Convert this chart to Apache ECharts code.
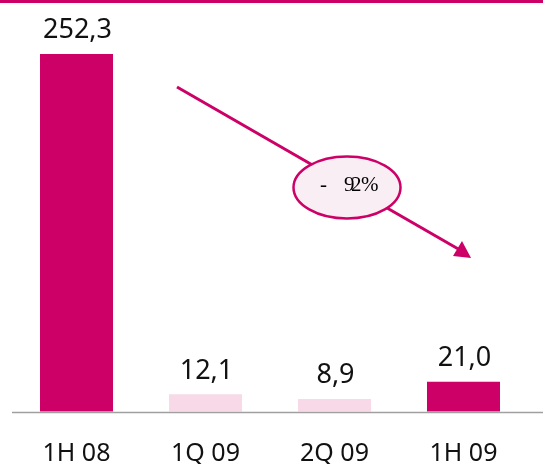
<!DOCTYPE html>
<html>
<head>
<meta charset="utf-8">
<script src="https://cdn.jsdelivr.net/npm/echarts@6/dist/echarts.min.js"></script>
<style>
  html, body { margin: 0; padding: 0; background: #fff; }
  #chart { width: 543px; height: 464px; }
</style>
</head>
<body>
<div id="chart"></div>
<script>
// Periods and values (comma used as decimal separator in labels)
const periods = ['1H 08', '1Q 09', '2Q 09', '1H 09'];
const values = [252.3, 12.1, 8.9, 21.0];
const barColors = ['#CC0066', '#F7D9E7', '#F7D9E7', '#CC0066'];
const changeText = '-92%';

const MAGENTA = '#CC0066';

const chart = echarts.init(document.getElementById('chart'));

const option = {
  animation: false,
  grid: { left: 12, right: 15, top: 54, bottom: 52.5, containLabel: false, outerBoundsMode: 'none' },
  xAxis: {
    type: 'category',
    data: periods,
    axisLine: { show: false },
    axisTick: { show: false },
    axisLabel: {
      color: '#111',
      fontSize: 25,
      fontFamily: 'Noto Sans, sans-serif',
      margin: 30
    }
  },
  yAxis: {
    type: 'value',
    min: 0,
    max: 252.3,
    show: false,
    splitLine: { show: false }
  },
  series: [{
    type: 'bar',
    barWidth: 73,
    data: values.map((v, i) => ({ value: v, itemStyle: { color: barColors[i] } })),
    label: {
      show: true,
      position: 'top',
      distance: 10,
      offset: [1, 0],
      color: '#111',
      fontSize: 27,
      fontFamily: 'Noto Sans, sans-serif',
      formatter: p => p.value.toFixed(1).replace('.', ',')
    }
  }]
};
chart.setOption(option);

// Baseline across the plot, thin rule along the top,
// and the trend arrow with its percentage bubble.
const baseY = Math.round(chart.convertToPixel({ yAxisIndex: 0 }, 0)) + 0.5;
const parts = changeText.split('');   // '-', '9', '2', '%'
const pctStyle = { fontSize: 21, fontFamily: 'Liberation Serif, serif', fill: '#000', verticalAlign: 'middle' };
chart.setOption({
  graphic: [
    { type: 'rect', shape: { x: 0, y: 0, width: 543, height: 3 }, style: { fill: MAGENTA } },
    { type: 'line', shape: { x1: 12, y1: baseY, x2: 543, y2: baseY }, style: { stroke: '#A0A0A0', lineWidth: 1.5 }, z: 5 },
    { type: 'line', shape: { x1: 177, y1: 87, x2: 460, y2: 250 }, style: { stroke: MAGENTA, lineWidth: 3 } },
    { type: 'polygon', shape: { points: [[471, 258], [453, 256], [462, 241]] }, style: { fill: MAGENTA } },
    {
      type: 'ellipse',
      shape: { cx: 347, cy: 187.5, rx: 53.5, ry: 31 },
      style: { fill: '#FAEEF5', stroke: MAGENTA, lineWidth: 2.5 },
      z: 10
    },
    { type: 'text', x: 320, y: 185, style: Object.assign({ text: parts[0] }, pctStyle), z: 11 },
    { type: 'text', x: 344, y: 185, style: Object.assign({ text: parts[1] }, pctStyle), z: 11 },
    { type: 'text', x: 351, y: 185, style: Object.assign({ text: parts[2] }, pctStyle), z: 11 },
    { type: 'text', x: 361, y: 185, style: Object.assign({ text: parts[3] }, pctStyle), z: 11 }
  ]
});
</script>
</body>
</html>
